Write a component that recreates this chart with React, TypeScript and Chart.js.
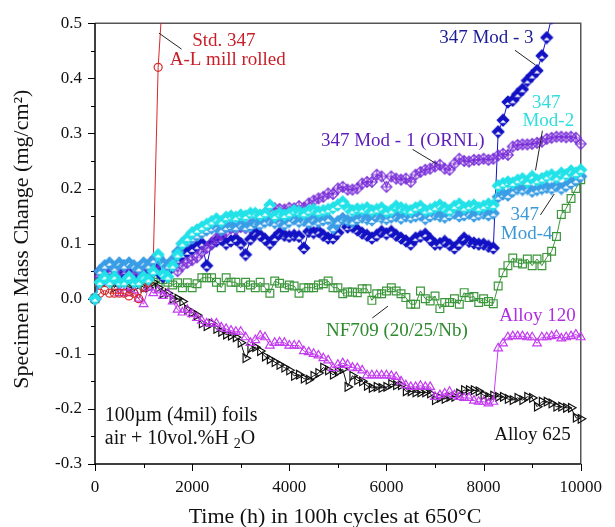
import React, { useEffect, useRef } from "react";
import { Chart, registerables } from "chart.js";

Chart.register(...registerables);

// Specimen mass change (mg/cm²), one reading per 100 h cycle starting at 0 h.
const CYCLE_HOURS = 100;

const std347 = [0, 0.01, 0.015, 0.01, 0.01, 0.01, 0.01, 0.005, 0.01, 0.0, 0.02, 0.03, 0.07, 0.42, 0.56];

const mod1 = [
  0, 0.04, 0.05, 0.06, 0.04, 0.05, 0.06, 0.05, 0.04, 0.05,
  0.06, 0.05, 0.07, 0.065, 0.05, 0.06, 0.06, 0.05, 0.06, 0.065,
  0.07, 0.075, 0.085, 0.092, 0.1, 0.11, 0.115, 0.122, 0.128, 0.126,
  0.13, 0.128, 0.135, 0.14, 0.15, 0.155, 0.16, 0.164, 0.163, 0.162,
  0.165, 0.164, 0.168, 0.165, 0.173, 0.178, 0.182, 0.185, 0.191, 0.19,
  0.2, 0.203, 0.198, 0.198, 0.2, 0.209, 0.212, 0.212, 0.225, 0.222,
  0.203, 0.222, 0.218, 0.216, 0.218, 0.212, 0.225, 0.23, 0.234, 0.236,
  0.24, 0.243, 0.236, 0.234, 0.245, 0.254, 0.25, 0.249, 0.252, 0.252,
  0.254, 0.252, 0.254, 0.26, 0.263, 0.261, 0.276, 0.279, 0.28, 0.28,
  0.281, 0.283, 0.285, 0.29, 0.292, 0.294, 0.294, 0.293, 0.294, 0.292,
  0.281,
];

const mod3 = [
  0, 0.05, 0.04, 0.05, 0.04, 0.035, 0.05, 0.04, 0.05, 0.035,
  0.05, 0.04, 0.06, 0.05, 0.04, 0.05, 0.06, 0.07, 0.08, 0.085,
  0.09, 0.095, 0.1, 0.06, 0.1, 0.105, 0.108, 0.1, 0.105, 0.108,
  0.1, 0.08, 0.108, 0.12, 0.115, 0.108, 0.1, 0.11, 0.119, 0.115,
  0.113, 0.115, 0.113, 0.092, 0.122, 0.12, 0.122, 0.115, 0.11, 0.11,
  0.12, 0.144, 0.13, 0.131, 0.125, 0.119, 0.115, 0.11, 0.115, 0.122,
  0.118, 0.122, 0.115, 0.11, 0.105, 0.099, 0.11, 0.113, 0.117, 0.108,
  0.099, 0.1, 0.104, 0.098, 0.092, 0.1, 0.11, 0.104, 0.101, 0.099,
  0.099, 0.095, 0.092, 0.303, 0.324, 0.357, 0.36, 0.371, 0.38, 0.396,
  0.405, 0.414, 0.441, 0.474, 0.51,
];

const mod2 = [
  0, 0.03, 0.04, 0.03, 0.04, 0.03, 0.03, 0.04, 0.03, 0.03,
  0.04, 0.035, 0.05, 0.08, 0.045, 0.04, 0.06, 0.08, 0.1, 0.11,
  0.12, 0.125, 0.13, 0.135, 0.14, 0.145, 0.14, 0.148, 0.15, 0.148,
  0.152, 0.15, 0.155, 0.155, 0.152, 0.155, 0.17, 0.15, 0.155, 0.152,
  0.155, 0.16, 0.158, 0.155, 0.16, 0.162, 0.158, 0.16, 0.162, 0.165,
  0.17, 0.176, 0.165, 0.16, 0.163, 0.162, 0.165, 0.16, 0.162, 0.165,
  0.158, 0.16, 0.168, 0.165, 0.162, 0.16, 0.165, 0.168, 0.16, 0.162,
  0.166, 0.17, 0.165, 0.16, 0.168, 0.172, 0.165, 0.168, 0.17, 0.165,
  0.168, 0.172, 0.17, 0.205, 0.209, 0.212, 0.21, 0.215, 0.218, 0.212,
  0.222, 0.215, 0.218, 0.222, 0.225, 0.22, 0.228, 0.225, 0.232, 0.228,
  0.234,
];

const mod4 = [
  0, 0.05, 0.06, 0.065, 0.055, 0.065, 0.06, 0.065, 0.06, 0.055,
  0.065, 0.06, 0.07, 0.075, 0.065, 0.06, 0.07, 0.085, 0.1, 0.105,
  0.11, 0.115, 0.12, 0.125, 0.128, 0.13, 0.125, 0.13, 0.132, 0.13,
  0.135, 0.13, 0.132, 0.138, 0.135, 0.14, 0.142, 0.138, 0.14, 0.135,
  0.14, 0.145, 0.14, 0.142, 0.138, 0.145, 0.14, 0.143, 0.145, 0.128,
  0.14, 0.145, 0.142, 0.14, 0.145, 0.148, 0.145, 0.143, 0.15, 0.147,
  0.145, 0.148, 0.15, 0.146, 0.15, 0.148, 0.15, 0.152, 0.145, 0.15,
  0.153, 0.15, 0.148, 0.152, 0.155, 0.15, 0.152, 0.155, 0.15, 0.153,
  0.155, 0.152, 0.155, 0.185, 0.19, 0.188, 0.195, 0.2, 0.198, 0.2,
  0.195, 0.198, 0.2, 0.202, 0.2, 0.205, 0.2, 0.205, 0.21, 0.215,
  0.222,
];

const nf709 = [
  0, 0.03, 0.04, 0.04, 0.03, 0.03, 0.04, 0.03, 0.03, 0.035,
  0.03, 0.04, 0.035, 0.03, 0.035, 0.03, 0.025, 0.029, 0.02, 0.029,
  0.02, 0.027, 0.038, 0.038, 0.038, 0.03, 0.02, 0.038, 0.03, 0.03,
  0.02, 0.03, 0.025, 0.02, 0.03, 0.02, 0.01, 0.032, 0.028, 0.02,
  0.025, 0.023, 0.01, 0.02, 0.02, 0.02, 0.025, 0.027, 0.032, 0.02,
  0.02, 0.009, 0.012, 0.012, 0.011, 0.018, 0.018, -0.003, 0.009, 0.009,
  0.014, 0.02, 0.014, 0.009, 0.002, -0.01, -0.01, 0.014, 0.0, -0.004,
  0.005, -0.018, -0.007, -0.007, 0.0, -0.01, 0.011, 0.002, 0.004, -0.007,
  0.0, -0.005, -0.009, 0.023, 0.047, 0.06, 0.074, 0.065, 0.063, 0.072,
  0.06, 0.072, 0.06, 0.075, 0.086, 0.113, 0.153, 0.164, 0.182, 0.2,
  0.216,
];

const alloy120 = [
  0, 0.03, 0.035, 0.03, 0.035, 0.01, 0.02, 0.01, 0.015, 0.0,
  -0.01, 0.02, 0.01, 0.015, 0.005, 0.01, -0.005, -0.02, -0.025, -0.02,
  -0.028, -0.035, -0.04, -0.045, -0.045, -0.045, -0.052, -0.055, -0.058, -0.06,
  -0.06, -0.07, -0.08, -0.075, -0.067, -0.07, -0.085, -0.08, -0.079, -0.08,
  -0.085, -0.085, -0.085, -0.095, -0.097, -0.1, -0.103, -0.108, -0.112, -0.126,
  -0.12, -0.117, -0.12, -0.125, -0.126, -0.13, -0.139, -0.139, -0.139, -0.139,
  -0.139, -0.14, -0.142, -0.15, -0.157, -0.16, -0.16, -0.158, -0.16, -0.16,
  -0.178, -0.175, -0.172, -0.169, -0.175, -0.178, -0.18, -0.18, -0.185, -0.187,
  -0.187, -0.19, -0.187, -0.09, -0.081, -0.07, -0.068, -0.068, -0.068, -0.07,
  -0.07, -0.081, -0.07, -0.07, -0.068, -0.066, -0.072, -0.07, -0.068, -0.065,
  -0.07,
];

const alloy625 = [
  0, 0.03, 0.03, 0.04, 0.02, 0.03, 0.03, 0.02, 0.02, 0.03,
  0.02, 0.02, 0.03, 0.02, 0.01, 0.01, 0.0, 0.0, -0.005, -0.02,
  -0.025, -0.03, -0.045, -0.05, -0.045, -0.055, -0.06, -0.065, -0.067, -0.07,
  -0.08, -0.108, -0.09, -0.088, -0.095, -0.105, -0.11, -0.115, -0.12, -0.125,
  -0.13, -0.14, -0.138, -0.145, -0.147, -0.14, -0.135, -0.125, -0.13, -0.138,
  -0.132, -0.128, -0.16, -0.14, -0.148, -0.15, -0.158, -0.162, -0.16, -0.162,
  -0.16, -0.155, -0.157, -0.157, -0.168, -0.168, -0.17, -0.17, -0.17, -0.172,
  -0.184, -0.18, -0.182, -0.178, -0.178, -0.172, -0.166, -0.166, -0.166, -0.168,
  -0.175, -0.178, -0.176, -0.178, -0.178, -0.182, -0.184, -0.18, -0.184, -0.178,
  -0.18, -0.196, -0.187, -0.187, -0.19, -0.196, -0.196, -0.198, -0.198, -0.216,
  -0.218,
];

// Axis ticks
const X_MAJOR = [0, 2000, 4000, 6000, 8000, 10000];
const X_MINOR = [1000, 3000, 5000, 7000, 9000];
const Y_MAJOR = [-0.3, -0.2, -0.1, 0.0, 0.1, 0.2, 0.3, 0.4, 0.5];
const Y_MINOR = [-0.25, -0.15, -0.05, 0.05, 0.15, 0.25, 0.35, 0.45];

const SERIF = "'Liberation Serif', 'Times New Roman', Times, serif";

const C = {
  red: "#d42a2a",
  purple: "#7a2fd8",
  navy: "#1212c4",
  cyan: "#22e2e8",
  sky: "#3a9ee6",
  green: "#3c963c",
  magenta: "#c43cf0",
  black: "#111111",
};

// Labels placed in data units (hours, mg/cm²)
const LABELS = [
  { text: "Std. 347", x: 2652, y: 0.468, color: "#c81e28" },
  { text: "A-L mill rolled", x: 2733, y: 0.433, color: "#c81e28" },
  { text: "347 Mod - 3", x: 8057, y: 0.473, color: "#1c1c96" },
  { text: "347", x: 9291, y: 0.356, color: "#30dede" },
  { text: "Mod-2", x: 9332, y: 0.323, color: "#30dede" },
  { text: "347 Mod - 1 (ORNL)", x: 6336, y: 0.287, color: "#5c1cbc" },
  { text: "347", x: 8846, y: 0.152, color: "#3a98d6" },
  { text: "Mod-4", x: 8887, y: 0.118, color: "#3a98d6" },
  { text: "NF709 (20/25/Nb)", x: 6215, y: -0.059, color: "#2e8a2e" },
  { text: "Alloy 120", x: 9109, y: -0.032, color: "#b02ee0" },
  { text: "Alloy 625", x: 9008, y: -0.248, color: "#111111" },
];

const LEADERS = [
  [1316, 0.482, 1781, 0.453],
  [8644, 0.451, 9069, 0.424],
  [9211, 0.305, 9069, 0.233],
  [6538, 0.271, 7045, 0.244],
  [9170, 0.152, 9453, 0.19],
  [5709, -0.035, 6032, -0.0135],
];

const toPoints = (vals: number[]) => vals.map((v, i) => ({ x: i * CYCLE_HOURS, y: v }));

function markerCanvas(size: number, draw: (g: CanvasRenderingContext2D, m: number) => void) {
  const c = document.createElement("canvas");
  c.width = size;
  c.height = size;
  const g = c.getContext("2d")!;
  draw(g, size / 2);
  return c;
}

function halfDiamond(color: string) {
  const r = 5.8;
  return markerCanvas(14, (g, m) => {
    g.beginPath();
    g.moveTo(m, m - r);
    g.lineTo(m + r, m);
    g.lineTo(m, m + r);
    g.lineTo(m - r, m);
    g.closePath();
    g.fillStyle = color;
    g.fill();
    g.strokeStyle = color;
    g.lineWidth = 1.2;
    g.stroke();
    g.beginPath();
    g.moveTo(m, m - 0.3);
    g.lineTo(m + 3.1, m + 2.7);
    g.lineTo(m - 3.1, m + 2.7);
    g.closePath();
    g.fillStyle = "#ffffff";
    g.fill();
  });
}

function crossDiamond(color: string) {
  const r = 5.3;
  return markerCanvas(14, (g, m) => {
    g.strokeStyle = color;
    g.lineWidth = 1.2;
    g.beginPath();
    g.moveTo(m, m - r);
    g.lineTo(m + r, m);
    g.lineTo(m, m + r);
    g.lineTo(m - r, m);
    g.closePath();
    g.moveTo(m, m - r);
    g.lineTo(m, m + r);
    g.moveTo(m - r, m);
    g.lineTo(m + r, m);
    g.stroke();
  });
}

const decorPlugin = {
  id: "decor",
  beforeDatasetsDraw(chart: any) {
    const { ctx, chartArea: a, scales } = chart;
    const xs = scales.x;
    const ys = scales.y;
    ctx.save();
    ctx.strokeStyle = "#000";
    ctx.lineWidth = 1;
    ctx.beginPath();
    for (const v of X_MAJOR) {
      const px = Math.round(xs.getPixelForValue(v)) + 0.5;
      ctx.moveTo(px, a.bottom);
      ctx.lineTo(px, a.bottom + 7);
    }
    for (const v of X_MINOR) {
      const px = Math.round(xs.getPixelForValue(v)) + 0.5;
      ctx.moveTo(px, a.bottom);
      ctx.lineTo(px, a.bottom + 4);
    }
    for (const v of Y_MAJOR) {
      const py = Math.round(ys.getPixelForValue(v)) + 0.5;
      ctx.moveTo(a.left, py);
      ctx.lineTo(a.left - 7, py);
    }
    for (const v of Y_MINOR) {
      const py = Math.round(ys.getPixelForValue(v)) + 0.5;
      ctx.moveTo(a.left, py);
      ctx.lineTo(a.left - 4, py);
    }
    ctx.stroke();

    // frame: dark top/right, black left/bottom
    ctx.lineWidth = 1.5;
    ctx.strokeStyle = "#555";
    ctx.beginPath();
    ctx.moveTo(a.left, a.top);
    ctx.lineTo(a.right, a.top);
    ctx.lineTo(a.right, a.bottom);
    ctx.stroke();
    ctx.strokeStyle = "#000";
    ctx.beginPath();
    ctx.moveTo(a.left, a.top);
    ctx.lineTo(a.left, a.bottom);
    ctx.lineTo(a.right, a.bottom);
    ctx.stroke();
    ctx.restore();
  },
  afterDatasetsDraw(chart: any) {
    const { ctx, chartArea: a, scales } = chart;
    const xs = scales.x;
    const ys = scales.y;
    ctx.save();
    // leader lines
    ctx.strokeStyle = "#222";
    ctx.lineWidth = 1;
    ctx.beginPath();
    for (const [x1, y1, x2, y2] of LEADERS) {
      ctx.moveTo(xs.getPixelForValue(x1), ys.getPixelForValue(y1));
      ctx.lineTo(xs.getPixelForValue(x2), ys.getPixelForValue(y2));
    }
    ctx.stroke();

    ctx.textBaseline = "middle";
    ctx.textAlign = "center";
    ctx.font = `19px ${SERIF}`;
    for (const l of LABELS) {
      ctx.fillStyle = l.color;
      ctx.fillText(l.text, xs.getPixelForValue(l.x), ys.getPixelForValue(l.y));
    }

    // test conditions note
    ctx.fillStyle = "#111";
    ctx.textAlign = "left";
    ctx.font = `20px ${SERIF}`;
    const nx = xs.getPixelForValue(202);
    ctx.fillText("100\u00b5m (4mil) foils", nx, ys.getPixelForValue(-0.212));
    const ny = ys.getPixelForValue(-0.255);
    const p1 = "air + 10vol.%H";
    ctx.fillText(p1, nx, ny);
    let cx = nx + ctx.measureText(p1).width + 5;
    ctx.font = `14px ${SERIF}`;
    ctx.fillText("2", cx, ny + 5);
    cx += ctx.measureText("2").width;
    ctx.font = `20px ${SERIF}`;
    ctx.fillText("O", cx, ny);

    // axis titles
    ctx.font = `22px ${SERIF}`;
    ctx.textAlign = "center";
    ctx.fillText("Time (h) in 100h cycles at 650\u00b0C", a.left + 240, a.bottom + 53);
    ctx.translate(a.left - 73, a.top + 216);
    ctx.rotate(-Math.PI / 2);
    ctx.fillText("Specimen Mass Change (mg/cm\u00b2)", 0, 0);
    ctx.restore();
  },
};

export default function App() {
  const ref = useRef<HTMLCanvasElement | null>(null);

  useEffect(() => {
    document.body.style.margin = "0";
    const canvas = ref.current;
    if (!canvas) return;

    const clip = { left: 8, right: 8, top: 0, bottom: 8 };
    const line = (label: string, vals: number[], color: string, extra: any) => ({
      label,
      data: toPoints(vals),
      borderColor: color,
      borderWidth: 1,
      backgroundColor: "rgba(0,0,0,0)",
      pointBorderColor: color,
      pointBackgroundColor: "rgba(0,0,0,0)",
      pointBorderWidth: 1.2,
      pointRadius: 5,
      tension: 0,
      clip,
      ...extra,
    });

    const chart = new Chart(canvas, {
      type: "line",
      data: {
        datasets: [
          line("347 Mod-2", mod2, C.cyan, { pointStyle: halfDiamond(C.cyan) }),
          line("347 Mod-4", mod4, C.sky, { pointStyle: halfDiamond(C.sky) }),
          line("347 Mod-1 (ORNL)", mod1, C.purple, { pointStyle: crossDiamond(C.purple) }),
          line("347 Mod-3", mod3, C.navy, { pointStyle: halfDiamond(C.navy) }),
          line("Std. 347", std347, C.red, { pointStyle: "circle", pointRadius: 4 }),
          line("Alloy 120", alloy120, C.magenta, { pointStyle: "triangle", pointRadius: 5 }),
          line("Alloy 625", alloy625, C.black, { pointStyle: "triangle", pointRotation: 90, pointRadius: 5 }),
          line("NF709", nf709, C.green, { pointStyle: "rect", pointRadius: 5.5 }),
        ],
      },
      options: {
        animation: false,
        responsive: false,
        devicePixelRatio: 1,
        layout: { padding: { top: 20, right: 25, left: 0, bottom: 0 } },
        plugins: {
          legend: { display: false },
          tooltip: { enabled: false },
        },
        scales: {
          x: {
            type: "linear",
            min: 0,
            max: 10000,
            grid: { display: false, drawTicks: false },
            border: { display: false },
            ticks: {
              stepSize: 2000,
              padding: 13,
              color: "#111",
              font: { family: SERIF, size: 17 },
              maxRotation: 0,
              callback: (v: any) => String(Math.round(Number(v))),
            },
            afterFit: (s: any) => {
              s.height = 63;
            },
          },
          y: {
            type: "linear",
            min: -0.3,
            max: 0.5,
            grid: { display: false, drawTicks: false },
            border: { display: false },
            ticks: {
              stepSize: 0.1,
              padding: 13,
              color: "#111",
              font: { family: SERIF, size: 17 },
              callback: (v: any) => Number(v).toFixed(1),
            },
            afterFit: (s: any) => {
              s.width = 95;
            },
          },
        },
      },
      plugins: [decorPlugin],
    });

    return () => chart.destroy();
  }, []);

  return (
    <div style={{ width: 615, height: 527, background: "#fff" }}>
      <canvas ref={ref} width={615} height={527} style={{ display: "block" }} />
    </div>
  );
}
